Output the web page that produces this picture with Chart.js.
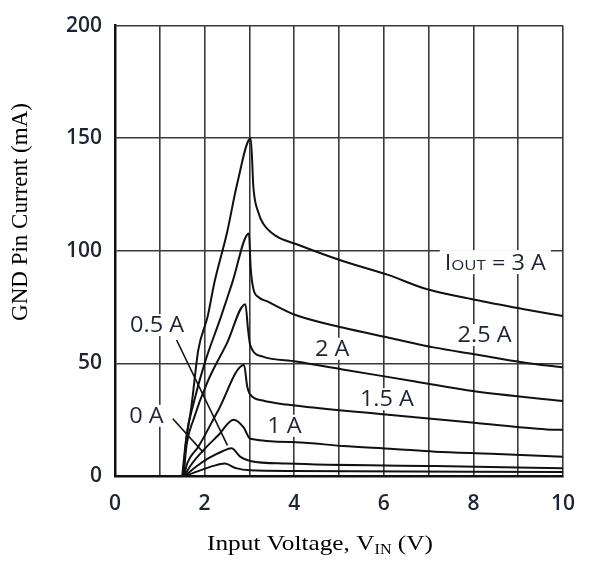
<!DOCTYPE html>
<html lang="en">
<head>
<meta charset="UTF-8" />
<title>GND Pin Current vs Input Voltage</title>
<style>
  html, body { margin: 0; padding: 0; background: #fff; }
  #wrap { width: 590px; height: 565px; }
</style>
</head>
<body>
<div id="wrap"><canvas id="chart-1" width="590" height="565"></canvas></div>

<script src="https://cdn.jsdelivr.net/npm/chart.js"></script>
<script>
  // curves (input voltage in V, GND current in mA)
  const v3A = [1.50, 1.58, 1.70, 1.86, 2.07, 2.22, 2.50, 2.73, 3.03, 3.09, 3.20, 3.31, 3.60, 4.04, 5.00, 6.08, 6.95, 8.00, 9.10, 10.0];
  const i3A = [0, 15, 30, 56, 71, 86, 108, 130, 150, 128, 117, 112, 106.5, 103, 96, 89.4, 83, 78.4, 74.2, 71];

  const v25A = [1.52, 1.60, 1.75, 2.00, 2.37, 2.62, 2.99, 3.03, 3.09, 3.20, 3.40, 4.00, 5.08, 6.11, 7.14, 8.02, 9.12, 10.0];
  const i25A = [0, 18, 32, 50, 71, 86, 107.7, 92, 83, 79.5, 77.5, 71.7, 65.9, 61.4, 57, 54.1, 50.4, 48.2];

  const v2A = [1.53, 1.60, 1.75, 2.07, 2.50, 2.91, 2.97, 3.02, 3.30, 4.04, 5.08, 6.70, 8.02, 10.0];
  const i2A = [0, 14, 25, 42, 59, 76.3, 65, 58, 53, 50.8, 47.3, 42, 37.6, 33.3];

  const v15A = [1.54, 1.62, 1.86, 2.30, 2.88, 2.95, 3.02, 3.30, 3.83, 6.04, 8.02, 9.64, 10.0];
  const i15A = [0, 6, 13, 29, 49.3, 40, 36.1, 33.5, 31.7, 27.3, 23.6, 20.7, 20.5];

  const v1A = [1.55, 1.70, 2.00, 2.30, 2.65, 2.87, 3.02, 4.04, 5.08, 6.22, 7.14, 8.40, 10.0];
  const i1A = [0, 5, 12, 18, 25, 21.6, 16.5, 15, 13.3, 12, 10.8, 9.9, 8.6];

  const v05A = [1.56, 1.80, 2.10, 2.40, 2.60, 2.80, 3.02, 3.83, 7.14, 10.0];
  const i05A = [0, 4, 8, 11, 12.3, 8.5, 6.7, 5.5, 4.4, 3.4];

  const v0A = [1.57, 1.90, 2.20, 2.45, 2.70, 3.00, 4.00, 10.0];
  const i0A = [0, 2.5, 4.5, 5.5, 3.5, 2.5, 2.2, 1.8];

  // leader lines from the "0.5 A" and "0 A" labels
  const vLead05 = [1.375, 2.51];
  const iLead05 = [60.4, 13.6];
  const vLead0 = [1.29, 1.97];
  const iLead0 = [25.4, 10.5];

  const xTicks = [0, 2, 4, 6, 8, 10];
  const yTicks = [0, 50, 100, 150, 200];

  // curve labels, anchored in data units
  const curveLabels = [
    { text: "2.5 A", v: 8.25, i: 62.6 },
    { text: "2 A", v: 4.85, i: 56.5 },
    { text: "1.5 A", v: 6.07, i: 34.1 },
    { text: "1 A", v: 3.78, i: 22.3 },
    { text: "0.5 A", v: 0.94, i: 67 },
    { text: "0 A", v: 0.70, i: 26.7 },
  ];

  const toPoints = (xs, ys) => xs.map((x, k) => ({ x: x, y: ys[k] }));

  const curve = (xs, ys, w) => ({
    data: toPoints(xs, ys),
    borderColor: "#111",
    borderWidth: w || 2,
    pointRadius: 0,
    cubicInterpolationMode: w ? "default" : "monotone",
    tension: 0,
    fill: false,
  });

  const textColor = "#1e2433";
  const tickFont = { family: "'Open Sans'", size: 21, weight: "600" };

  const annotate = {
    id: "annotate",
    afterDatasetsDraw(chart) {
      const { ctx, scales: { x, y } } = chart;
      const sx = 1.12;
      ctx.save();
      ctx.font = "21px 'Open Sans'";
      ctx.textBaseline = "middle";
      ctx.textAlign = "center";
      curveLabels.forEach((l) => {
        const px = x.getPixelForValue(l.v);
        const py = y.getPixelForValue(l.i);
        const w = ctx.measureText(l.text).width * sx;
        ctx.fillStyle = "#fff";
        ctx.fillRect(px - w / 2 - 3, py - 11, w + 6, 22);
        ctx.fillStyle = textColor;
        ctx.save();
        ctx.translate(px, py);
        ctx.scale(sx, 1);
        ctx.fillText(l.text, 0, 1);
        ctx.restore();
      });

      // "IOUT = 3 A" with small caps OUT
      const parts = [
        { t: "I", f: "21px 'Open Sans'" },
        { t: "OUT", f: "15px 'Open Sans'" },
        { t: " = 3 A", f: "21px 'Open Sans'" },
      ];
      let total = 0;
      parts.forEach((p) => { ctx.font = p.f; p.w = ctx.measureText(p.t).width; total += p.w; });
      const cx = x.getPixelForValue(8.49);
      const cy = y.getPixelForValue(95);
      ctx.fillStyle = "#fff";
      ctx.fillRect(cx - (total * sx) / 2 - 5, cy - 12, total * sx + 10, 24);
      ctx.fillStyle = textColor;
      ctx.textAlign = "left";
      ctx.textBaseline = "alphabetic";
      ctx.save();
      ctx.translate(cx - (total * sx) / 2, cy + 8);
      ctx.scale(sx, 1);
      let pos = 0;
      parts.forEach((p) => { ctx.font = p.f; ctx.fillText(p.t, pos, 0); pos += p.w; });
      ctx.restore();
      ctx.restore();
    },
    afterDraw(chart) {
      const ctx = chart.ctx;
      ctx.save();
      ctx.fillStyle = "#000";
      // y title
      ctx.font = "23px 'Liberation Serif'";
      ctx.textAlign = "center";
      ctx.textBaseline = "middle";
      ctx.translate(21, 212);
      ctx.rotate(-Math.PI / 2);
      ctx.fillText("GND Pin Current (mA)", 0, 0);
      ctx.restore();

      // x title with subscript
      ctx.save();
      ctx.fillStyle = "#000";
      ctx.textBaseline = "alphabetic";
      const a = "Input Voltage, V", b = "IN", c = " (V)";
      ctx.font = "22px 'Liberation Serif'";
      const wa = ctx.measureText(a).width, wc = ctx.measureText(c).width;
      ctx.font = "14px 'Liberation Serif'";
      const wb = ctx.measureText(b).width;
      const sx = 1.15;
      const start = 320 - ((wa + wb + wc) * sx) / 2;
      ctx.translate(start, 550);
      ctx.scale(sx, 1);
      ctx.font = "22px 'Liberation Serif'";
      ctx.fillText(a, 0, 0);
      ctx.font = "14px 'Liberation Serif'";
      ctx.fillText(b, wa, 4);
      ctx.font = "22px 'Liberation Serif'";
      ctx.fillText(c, wa + wb, 0);
      ctx.restore();
    },
  };

  const ctx = document.getElementById("chart-1");
  const chart = new Chart(ctx, {
    type: "line",
    data: {
      datasets: [
        curve(v3A, i3A),
        curve(v25A, i25A),
        curve(v2A, i2A),
        curve(v15A, i15A),
        curve(v1A, i1A),
        curve(v05A, i05A),
        curve(v0A, i0A),
        curve(vLead05, iLead05, 1.6),
        curve(vLead0, iLead0, 1.6),
      ],
    },
    options: {
      responsive: false,
      animation: false,
      events: [],
      layout: { padding: { left: 0, right: 17, top: 19, bottom: 0 } },
      plugins: { legend: { display: false }, tooltip: { enabled: false } },
      scales: {
        x: {
          type: "linear",
          min: 0,
          max: 10,
          afterFit: (s) => { s.height = 89; },
          afterBuildTicks: (s) => {
            s.ticks = [0, 1, 2, 3, 4, 5, 6, 7, 8, 9, 10].map((v) => ({ value: v }));
          },
          ticks: {
            autoSkip: false,
            maxRotation: 0,
            padding: 15,
            color: textColor,
            font: tickFont,
            callback: (v) => (xTicks.includes(v) ? String(v) : ""),
          },
          grid: { color: "#3a3a3a", lineWidth: 1.6, drawTicks: false },
          border: { color: "#111", width: 2.5 },
        },
        y: {
          min: 0,
          max: 200,
          afterFit: (s) => { s.width = 115; },
          afterBuildTicks: (s) => {
            s.ticks = yTicks.map((v) => ({ value: v }));
          },
          ticks: {
            padding: 13,
            color: textColor,
            font: tickFont,
          },
          grid: { color: "#3a3a3a", lineWidth: 1.6, drawTicks: false },
          border: { color: "#111", width: 2.5 },
        },
      },
    },
    plugins: [annotate],
  });
</script>
</body>
</html>
